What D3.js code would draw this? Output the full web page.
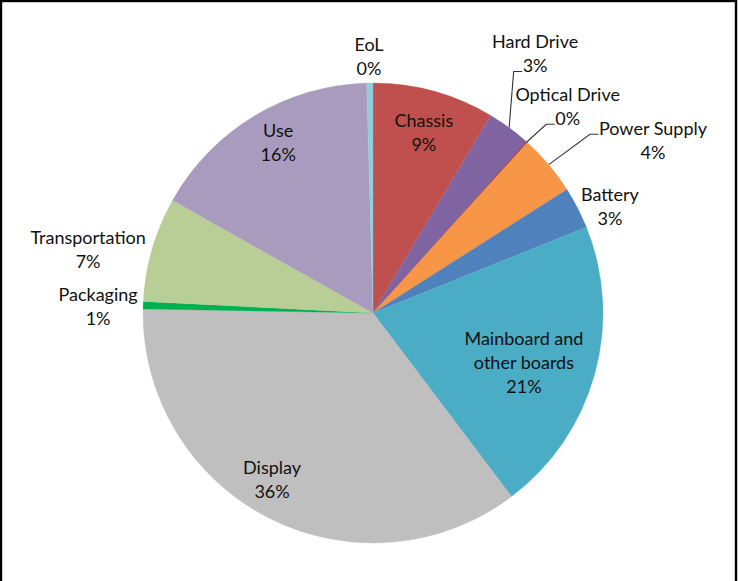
<!DOCTYPE html>
<html>
<head>
<meta charset="utf-8">
<script src="https://cdn.jsdelivr.net/npm/d3@7"></script>
<style>
html,body{margin:0;padding:0;background:#fff;}
svg{display:block;}
text{font-family:Lato,"Open Sans",sans-serif;font-size:18px;fill:#111;}
</style>
</head>
<body>
<svg id="chart" width="738" height="581"></svg>
<script>
// ---- data ----
const categories = ["Chassis","Hard Drive","Optical Drive","Power Supply","Battery","Mainboard and other boards","Display","Packaging","Transportation","Use","EoL"];
const values = [8.55, 3.06, 0.1, 4.26, 2.94, 20.8, 35.57, 0.52, 7.36, 16.4, 0.44];
const colors = ["#C0504D","#8064A2","#9B3D3A","#F79646","#4F81BD","#4BACC6","#BFBFBF","#00B050","#B9CD97","#A99BBD","#93CDDD"];

// ---- layout (label placement) ----
const labelLines = [["Chassis"],["Hard Drive"],["Optical Drive"],["Power Supply"],["Battery"],["Mainboard and","other boards"],["Display"],["Packaging"],["Transportation"],["Use"],["EoL"]];
const labelRadius = [188, 306, 284, 329, 259.6, 159, 195, 275, 292, 195, 256.5];
const labelShift  = [0.3, -4.3, 1.3, 8.5, 3.1, 2.8, 4.2, -0.5, -3.5, 2.0, -0.1];
const leaderLine  = [-1, 1, 1, 0, -1, -1, -1, -1, -1, -1, -1]; // which text line the leader attaches to

const W = 738, H = 581;
const cx = 373, cy = 313, R = 230;
const lineH = 24;

const svg = d3.select("#chart");
svg.append("rect").attr("x",1).attr("y",1).attr("width",735).attr("height",700)
  .attr("fill","none").attr("stroke","#000").attr("stroke-width",2.4);

const g = svg.append("g").attr("transform",`translate(${cx},${cy})`);

const data = categories.map((c,i)=>({name:c, value:values[i], i}));
const total = d3.sum(values);
const pie = d3.pie().value(d=>d.value).sort(null);
const arcs = pie(data);
const arc = d3.arc().innerRadius(0).outerRadius(R);

g.selectAll("path.slice").data(arcs).join("path")
  .attr("class","slice")
  .attr("d",arc)
  .attr("fill",d=>colors[d.data.i])
  .attr("stroke",d=>colors[d.data.i])
  .attr("stroke-width",0.3);

function polar(angDeg, r){
  const a = angDeg*Math.PI/180;
  return [r*Math.sin(a), -r*Math.cos(a)];
}

const labelsG = g.append("g");
const leadersG = g.insert("g", ":nth-child(2)");

arcs.forEach((d,k)=>{
  const i = d.data.i;
  const mid = (d.startAngle+d.endAngle)/2*180/Math.PI;
  const [lx, ly] = polar(mid + labelShift[i], labelRadius[i]);
  const pct = Math.round(d.data.value/total*100) + "%";
  const lines = labelLines[i].concat([pct]);
  const n = lines.length;
  const tg = labelsG.append("g");
  const texts = lines.map((t,j)=> tg.append("text")
    .attr("x", lx)
    .attr("y", ly + (j-(n-1)/2)*lineH)
    .attr("dy","0.36em")
    .attr("text-anchor","middle")
    .text(t));
  if (leaderLine[i] >= 0) {
    const bb = texts[leaderLine[i]].node().getBBox();
    const ty = ly + (leaderLine[i]-(n-1)/2)*lineH;
    const ex = bb.x - 0.5, ey = ty + 6;
    const [sx, sy] = polar(mid, R);
    leadersG.append("polyline")
      .attr("points", [[sx,sy],[ex-8.5,ey],[ex,ey]].map(p=>p.join(",")).join(" "))
      .attr("fill","none").attr("stroke","#333").attr("stroke-width",1.1);
  }
});
</script>
</body>
</html>
